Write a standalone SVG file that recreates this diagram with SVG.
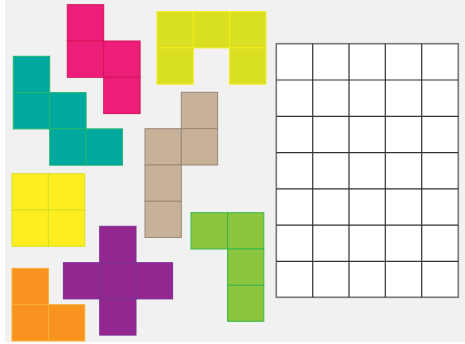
<svg xmlns="http://www.w3.org/2000/svg" width="465" height="344" viewBox="0 0 465 344">
<defs>
<style>
.c{stroke-width:1}
.pink{fill:#ed1e79;stroke:#d4145a}
.teal{fill:#00a99d;stroke:#22b573}
.lime{fill:#d9e021;stroke:#f4ec1a}
.tan{fill:#c7b299;stroke:#9a8878}
.yel{fill:#fcee21;stroke:#d9e021}
.pur{fill:#93278f;stroke:#7b2d96}
.ora{fill:#f7931e;stroke:#fbb03b}
.grn{fill:#8cc63f;stroke:#39b54a}
.gl{stroke:#333;stroke-width:1.2;fill:none}
</style>
</defs>
<rect x="0" y="0" width="465" height="344" fill="#ffffff"/>
<rect x="5" y="0" width="460" height="342" fill="#f1f1f1"/>

<g id="pink" class="pink">
<rect class="c" x="67.3" y="4.7" width="36.4" height="36.3"/>
<rect class="c" x="67.3" y="41" width="36.4" height="36.3"/>
<rect class="c" x="103.7" y="41" width="36.4" height="36.3"/>
<rect class="c" x="103.7" y="77.3" width="36.4" height="36.3"/>
</g>

<g id="teal" class="teal">
<rect class="c" x="13.3" y="56.3" width="36.4" height="36.3"/>
<rect class="c" x="13.3" y="92.6" width="36.4" height="36.3"/>
<rect class="c" x="49.7" y="92.6" width="36.4" height="36.3"/>
<rect class="c" x="49.7" y="128.9" width="36.4" height="36.3"/>
<rect class="c" x="86.1" y="128.9" width="36.4" height="36.3"/>
</g>

<g id="lime" class="lime">
<rect class="c" x="157" y="11.7" width="36.3" height="36.2"/>
<rect class="c" x="193.3" y="11.7" width="36.3" height="36.2"/>
<rect class="c" x="229.6" y="11.7" width="36.3" height="36.2"/>
<rect class="c" x="157" y="47.9" width="36.3" height="36.2"/>
<rect class="c" x="229.6" y="47.9" width="36.3" height="36.2"/>
</g>

<g id="tan" class="tan">
<rect class="c" x="181.3" y="92.3" width="36.3" height="36.4"/>
<rect class="c" x="145" y="128.7" width="36.3" height="36.3"/>
<rect class="c" x="181.3" y="128.7" width="36.3" height="36.3"/>
<rect class="c" x="145" y="165" width="36.3" height="36.3"/>
<rect class="c" x="145" y="201.3" width="36.3" height="36.2"/>
</g>

<g id="yellow" class="yel">
<rect class="c" x="12" y="173.7" width="36.4" height="36.3"/>
<rect class="c" x="48.4" y="173.7" width="36.4" height="36.3"/>
<rect class="c" x="12" y="210" width="36.4" height="36.3"/>
<rect class="c" x="48.4" y="210" width="36.4" height="36.3"/>
</g>

<g id="purple" class="pur">
<rect class="c" x="99.7" y="226.3" width="36.3" height="36.4"/>
<rect class="c" x="63.4" y="262.7" width="36.3" height="36.2"/>
<rect class="c" x="99.7" y="262.7" width="36.3" height="36.2"/>
<rect class="c" x="136" y="262.7" width="36.6" height="36.2"/>
<rect class="c" x="99.7" y="298.9" width="36.3" height="36.2"/>
</g>

<g id="orange" class="ora">
<rect class="c" x="12" y="268.3" width="36.4" height="36.4"/>
<rect class="c" x="12" y="304.7" width="36.4" height="36.3"/>
<rect class="c" x="48.4" y="304.7" width="36.4" height="36.3"/>
</g>

<g id="green" class="grn">
<rect class="c" x="191" y="212.7" width="36.6" height="36.3"/>
<rect class="c" x="227.6" y="212.7" width="36.2" height="36.3"/>
<rect class="c" x="227.6" y="249" width="36.2" height="36.3"/>
<rect class="c" x="227.6" y="285.3" width="36.2" height="36"/>
</g>

<g id="board">
<rect x="276.3" y="43.7" width="182" height="253.6" fill="#ffffff" stroke="#777" stroke-width="1.6"/>
<path class="gl" d="M312.7 43.7V297.3M349 43.7V297.3M385.3 43.7V297.3M421.7 43.7V297.3M276.3 80H458.3M276.3 116.3H458.3M276.3 152.6H458.3M276.3 188.9H458.3M276.3 225.1H458.3M276.3 261.3H458.3"/>
</g>
</svg>
